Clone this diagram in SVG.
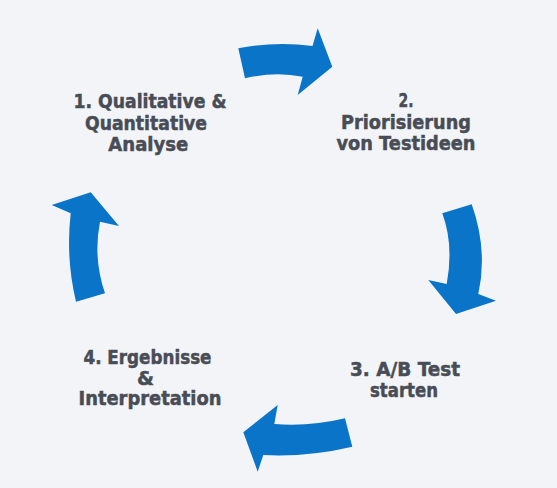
<svg xmlns="http://www.w3.org/2000/svg" width="557" height="488" viewBox="0 0 557 488">
<style>
.arrow{fill:#0a74c9;}
.lbl{font-family:"DejaVu Sans","Open Sans",sans-serif;font-weight:bold;font-size:19.5px;fill:#484c55;stroke:#484c55;stroke-width:0.5px;text-anchor:middle;}
</style>
<rect width="557" height="488" fill="#f2f4f8"/>
<g id="connectors">
<path id="arrow-1-2" class="arrow" d="M238.3,48.3 Q276,41 312.5,46 L317.7,28.3 L332.3,66.7 L297.7,95 L302.7,76.7 Q275,71 245,78.3 Z"/>
<path id="arrow-2-3" class="arrow" d="M471.7,204.3 Q488,250 478.3,294 L496,300.7 L456,314 L428.3,280 L446.7,284 Q454,245 442.3,213.3 Z"/>
<path id="arrow-3-4" class="arrow" d="M352.3,446.7 Q308,457.2 263.3,455 L257.7,471.7 L243.3,432.3 L277.7,405 L274.3,424 Q310,426.8 345,418.3 Z"/>
<path id="arrow-4-1" class="arrow" d="M76,301.7 Q65.6,258 70.7,213.3 L51.7,205 L90.7,192.3 L119,226 L100,221.7 Q92.9,258 105,293.3 Z"/>
</g>
<g id="node1">
<text class="lbl" x="150" y="108" textLength="153" lengthAdjust="spacingAndGlyphs">1. Qualitative &amp;</text>
<text class="lbl" x="146" y="130" textLength="122" lengthAdjust="spacingAndGlyphs">Quantitative</text>
<text class="lbl" x="148.3" y="151" textLength="80" lengthAdjust="spacingAndGlyphs">Analyse</text>
</g>
<g id="node2">
<text class="lbl" x="406" y="107" textLength="15" lengthAdjust="spacingAndGlyphs">2.</text>
<text class="lbl" x="406" y="128.5" textLength="130" lengthAdjust="spacingAndGlyphs">Priorisierung</text>
<text class="lbl" x="406" y="150" textLength="139" lengthAdjust="spacingAndGlyphs">von Testideen</text>
</g>
<g id="node3">
<text class="lbl" x="405" y="376" textLength="110" lengthAdjust="spacingAndGlyphs">3. A/B Test</text>
<text class="lbl" x="404" y="397" textLength="68" lengthAdjust="spacingAndGlyphs">starten</text>
</g>
<g id="node4">
<text class="lbl" x="147.5" y="364" textLength="128" lengthAdjust="spacingAndGlyphs">4. Ergebnisse</text>
<text class="lbl" x="145.5" y="385" textLength="17" lengthAdjust="spacingAndGlyphs">&amp;</text>
<text class="lbl" x="150" y="405" textLength="143" lengthAdjust="spacingAndGlyphs">Interpretation</text>
</g>
</svg>
